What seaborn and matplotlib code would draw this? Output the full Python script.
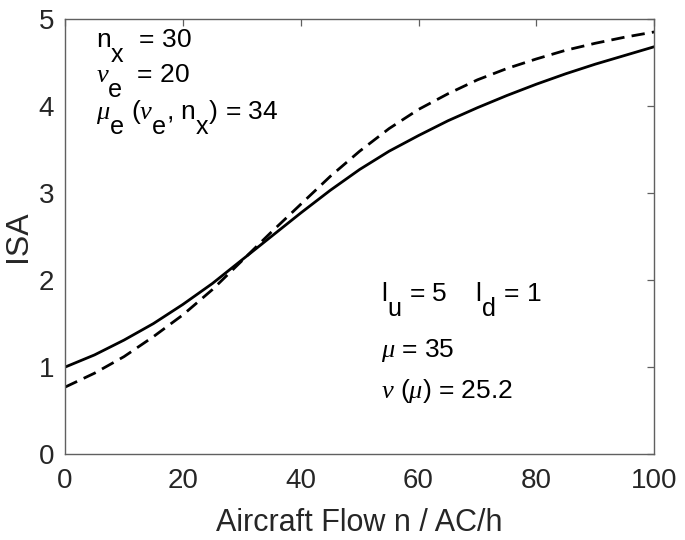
import numpy as np
import pandas as pd
import seaborn as sns
import matplotlib
import matplotlib._mathtext as mt
from matplotlib import pyplot as plt

matplotlib.use('Agg')

# values
flow = [0, 5, 10, 15, 20, 25, 30, 35, 40, 45, 50, 55, 60, 65, 70, 75, 80, 85, 90, 95, 100]
isa_solid = [1.00, 1.14, 1.31, 1.50, 1.72, 1.96, 2.23, 2.50, 2.77, 3.03, 3.27, 3.48, 3.66,
             3.83, 3.98, 4.12, 4.25, 4.37, 4.48, 4.58, 4.68]
isa_dashed = [0.77, 0.93, 1.12, 1.35, 1.60, 1.89, 2.22, 2.55, 2.87, 3.19, 3.48, 3.74, 3.96,
              4.14, 4.30, 4.43, 4.54, 4.64, 4.72, 4.79, 4.85]
x_ticks = [0, 20, 40, 60, 80, 100]
y_ticks = [0, 1, 2, 3, 4, 5]

sns.set_theme(style='white')
plt.rcParams['font.family'] = ['Liberation Sans', 'DejaVu Sans']
plt.rcParams['mathtext.fontset'] = 'custom'
plt.rcParams['mathtext.rm'] = 'Liberation Sans'
plt.rcParams['mathtext.it'] = 'Liberation Serif:italic'

# MATLAB style subscripts: almost full size and set well below the baseline
mt.SHRINK_FACTOR = 0.95
mt.FontConstantsBase.sub1 = 1.3

grey = '#262626'

df = pd.DataFrame({'flow': flow, 'solid': isa_solid, 'dashed': isa_dashed})

fig = plt.figure(figsize=(6.85, 5.4), dpi=100)
ax = fig.add_axes([0.095, 0.159, 0.86, 0.806])

sns.lineplot(data=df, x='flow', y='solid', ax=ax, color='black', linewidth=2.0)
sns.lineplot(data=df, x='flow', y='dashed', ax=ax, color='black', linewidth=2.0,
             linestyle=(0, (4.8, 2.6)))

ax.set_xlim(0, 100)
ax.set_ylim(0, 5)
ax.set_xticks(x_ticks)
ax.set_yticks(y_ticks)
ax.tick_params(direction='in', length=5, width=0.9, colors='#606060', labelsize=20,
               top=True, right=True, labelcolor=grey)
ax.tick_params(axis='x', pad=10)
ax.tick_params(axis='y', pad=8)
for s in ax.spines.values():
    s.set_color('#606060')
    s.set_linewidth(1.0)
    s.set_visible(True)

ax.set_xlabel('Aircraft Flow n / AC/h', fontsize=22, color=grey, labelpad=10)
ax.set_ylabel('ISA', fontsize=23, color=grey, labelpad=4)

fs = 19
kw = dict(fontsize=fs, color='black', va='baseline')
ax.text(5.3, 4.67, r'$\mathrm{n}_\mathrm{x}$  = 30', **kw)
ax.text(5.3, 4.27, r'$\nu_\mathrm{e}$  = 20', **kw)
ax.text(5.3, 3.85, r'$\mu_\mathrm{e}$ ($\nu_\mathrm{e}$, $\mathrm{n}_\mathrm{x}$) = 34', **kw)

ax.text(53.7, 1.75, r'$\mathrm{l}_\mathrm{u}$ = 5    $\mathrm{l}_\mathrm{d}$ = 1', **kw)
ax.text(53.7, 1.12, r'$\mu$ = 35', **kw)
ax.text(53.7, 0.64, r'$\nu$ ($\mu$) = 25.2', **kw)

plt.savefig('out.png', dpi=100)
